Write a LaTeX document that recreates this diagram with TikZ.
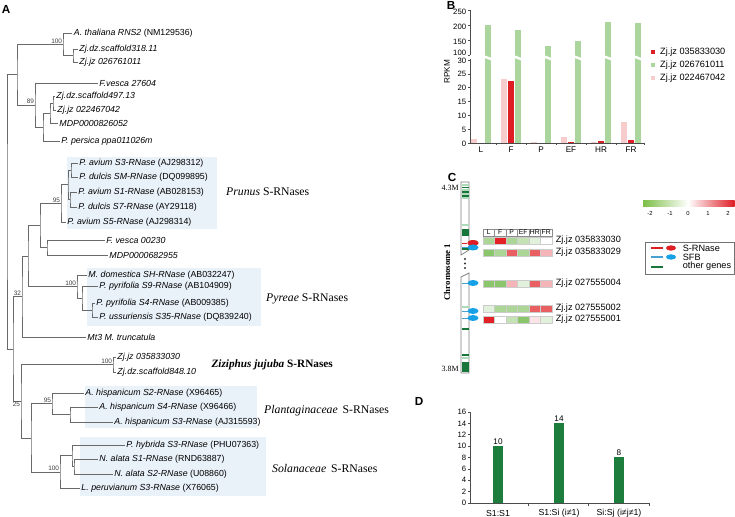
\documentclass[tikz,border=0pt]{standalone}
\usepackage{fontspec}
\setmainfont{Liberation Sans}
\newfontfamily\serifrm{Liberation Serif}
\usetikzlibrary{shapes.geometric,positioning,calc}
\definecolor{treegray}{RGB}{105,105,105}
\definecolor{cladeblue}{RGB}{233,241,249}
\definecolor{barred}{RGB}{221,30,36}
\definecolor{bargreen}{RGB}{170,214,158}
\definecolor{barpink}{RGB}{247,204,205}
\definecolor{darkgene}{RGB}{24,118,58}
\definecolor{lightgene}{RGB}{175,218,185}
\definecolor{sfbblue}{RGB}{22,160,230}
\definecolor{sfbline}{RGB}{70,160,210}
\definecolor{chromgray}{RGB}{125,125,125}
\definecolor{hmgreen}{RGB}{140,198,108}
\definecolor{hmlgreen}{RGB}{172,214,150}
\definecolor{hmllgreen}{RGB}{196,226,180}
\definecolor{hmvlgreen}{RGB}{226,241,219}
\definecolor{hmred}{RGB}{226,32,38}
\definecolor{hmmred}{RGB}{233,96,98}
\definecolor{hmpink}{RGB}{245,180,184}
\definecolor{hmvlpink}{RGB}{251,228,229}
\definecolor{scgreen}{RGB}{124,190,72}
\definecolor{scred}{RGB}{222,28,36}
\definecolor{dbar}{RGB}{28,125,60}

\begin{document}
\begin{tikzpicture}[x=0.03cm, y=-0.03cm,
leaf/.style={anchor=west, inner xsep=1.5pt, inner ysep=0pt, font=\fontsize{7.5}{8}\selectfont},
boot/.style={anchor=south east, inner sep=0.6pt, font=\fontsize{5.5}{6}\selectfont, text=black!75},
branch/.style={draw=treegray, line width=0.5pt},
clade/.style={anchor=west, inner sep=0pt, font=\serifrm\fontsize{10}{12}\selectfont},
panel/.style={font=\bfseries\fontsize{10}{12}\selectfont, inner sep=0pt},
tick/.style={anchor=east, inner xsep=1pt, inner ysep=0pt, font=\fontsize{6.6}{7}\selectfont},
catlab/.style={inner sep=0pt, font=\fontsize{7}{8}\selectfont},
axis/.style={draw=black!70, line width=0.4pt},
legsq/.style={minimum size=1.3mm, inner sep=0pt},
legtxt/.style={anchor=west, inner sep=0.5pt, font=\fontsize{7.8}{9}\selectfont},
hcell/.style={draw=black!45, line width=0.2pt, minimum width=0.345cm, minimum height=0.2cm, inner sep=0pt, font=\fontsize{5.8}{6}\selectfont},
gene/.style={line width=0.9pt},
srnase/.style={ellipse, fill=barred, minimum width=3.3mm, minimum height=1.8mm, inner sep=0pt},
sfb/.style={ellipse, fill=sfbblue, minimum width=3.3mm, minimum height=1.8mm, inner sep=0pt}
]
\useasboundingbox (0,0) rectangle (735,517);

% ---------------- A: tree
\node[panel] (pA) at (6,9) {A};

\fill[cladeblue] (67,157) rectangle (217,229);
\fill[cladeblue] (87,268) rectangle (261,326);
\fill[cladeblue] (85,386) rectangle (257,428);
\fill[cladeblue] (80,437) rectangle (266,496);

\node[leaf] (lAth) at (72,33) {\textit{A. thaliana RNS2} (NM129536)};
\node[leaf] (lZj318) at (77.5,49) {\textit{Zj.dz.scaffold318.11}};
\node[leaf] (lZj026) at (77.5,62) {\textit{Zj.jz 026761011}};
\node[leaf] (lFv27) at (97.5,83) {\textit{F.vesca 27604}};
\node[leaf] (lZj497) at (54.5,96) {\textit{Zj.dz.scaffold497.13}};
\node[leaf] (lZj022) at (55.5,110) {\textit{Zj.jz 022467042}};
\node[leaf] (lMDP826) at (57.5,123) {\textit{MDP0000826052}};
\node[leaf] (lPpe) at (59.5,141) {\textit{P. persica ppa011026m}};
\node[leaf] (lPavS3) at (77.5,163) {\textit{P. avium S3-RNase} (AJ298312)};
\node[leaf] (lPduSM) at (77.5,177) {\textit{P. dulcis SM-RNase} (DQ099895)};
\node[leaf] (lPavS1) at (76.5,192) {\textit{P. avium S1-RNase} (AB028153)};
\node[leaf] (lPduS7) at (76.5,207) {\textit{P. dulcis S7-RNase} (AY29118)};
\node[leaf] (lPavS5) at (65.5,222) {\textit{P. avium S5-RNase} (AJ298314)};
\node[leaf] (lFv00) at (104.5,240) {\textit{F. vesca 00230}};
\node[leaf] (lMDP682) at (107.5,255) {\textit{MDP0000682955}};
\node[leaf] (lMdo) at (86.5,275) {\textit{M. domestica SH-RNase} (AB032247)};
\node[leaf] (lPpyS9) at (97.5,286) {\textit{P. pyrifolia S9-RNase} (AB104909)};
\node[leaf] (lPpyS4) at (94.5,303) {\textit{P. pyrifolia S4-RNase} (AB009385)};
\node[leaf] (lPusS35) at (97.5,317) {\textit{P. ussuriensis S35-RNase} (DQ839240)};
\node[leaf] (lMt3) at (85.5,337) {\textit{Mt3 M. truncatula}};
\node[leaf] (lZj035) at (115.5,357) {\textit{Zj.jz 035833030}};
\node[leaf] (lZj848) at (115.5,372) {\textit{Zj.dz.scaffold848.10}};
\node[leaf] (lAhS2) at (83.5,393) {\textit{A. hispanicum S2-RNase} (X96465)};
\node[leaf] (lAhS4) at (97.5,407) {\textit{A. hispanicum S4-RNase} (X96466)};
\node[leaf] (lAhS3) at (112.5,422) {\textit{A. hispanicum S3-RNase} (AJ315593)};
\node[leaf] (lPhy) at (124.5,445) {\textit{P. hybrida S3-RNase} (PHU07363)};
\node[leaf] (lNaS1) at (97.5,459) {\textit{N. alata S1-RNase} (RND63887)};
\node[leaf] (lNaS2) at (112.5,474) {\textit{N. alata S2-RNase} (U08860)};
\node[leaf] (lLpe) at (79.5,488) {\textit{L. peruvianum S3-RNase} (X76065)};

\coordinate (nZj1) at (73,55.5);
\coordinate (n100a) at (63,44.25);
\coordinate (nZ497) at (53,103);
\coordinate (nZ826) at (50,113);
\coordinate (nPpe) at (43,127);
\coordinate (n89) at (35,105);
\coordinate (nTop) at (17,74.6);
\coordinate (nS3SM) at (71,170);
\coordinate (nS1S7) at (70,199.5);
\coordinate (nPr4) at (68,184.75);
\coordinate (n95) at (61,203.4);
\coordinate (nFvM) at (47,247.5);
\coordinate (nPr) at (40,225.4);
\coordinate (nS4S35) at (92,310);
\coordinate (nS9) at (82,298);
\coordinate (nPy) at (77,286.5);
\coordinate (nD) at (28,256);
\coordinate (n32) at (22,296.5);
\coordinate (nZiz) at (113,364.5);
\coordinate (nAS4S3) at (70,414.5);
\coordinate (n95b) at (52,403.75);
\coordinate (nNal) at (74,466.5);
\coordinate (nPhy) at (72,455.75);
\coordinate (n100c) at (60,471.9);
\coordinate (nF) at (31,437.8);
\coordinate (n25) at (21,401.2);
\coordinate (nE) at (13,348.8);
\coordinate (nRoot) at (7,211.7);

\draw[branch] (lZj318.west) -| (nZj1) |- (lZj026.west);
\draw[branch] (lAth.west) -| (n100a) |- (nZj1);
\draw[branch] (lZj497.west) -| (nZ497) |- (lZj022.west);
\draw[branch] (nZ497) -| (nZ826) |- (lMDP826.west);
\draw[branch] (nZ826) -| (nPpe) |- (lPpe.west);
\draw[branch] (lFv27.west) -| (n89) |- (nPpe);
\draw[branch] (n100a) -| (nTop) |- (n89);
\draw[branch] (lPavS3.west) -| (nS3SM) |- (lPduSM.west);
\draw[branch] (lPavS1.west) -| (nS1S7) |- (lPduS7.west);
\draw[branch] (nS3SM) -| (nPr4) |- (nS1S7);
\draw[branch] (nPr4) -| (n95) |- (lPavS5.west);
\draw[branch] (lFv00.west) -| (nFvM) |- (lMDP682.west);
\draw[branch] (n95) -| (nPr) |- (nFvM);
\draw[branch] (lPpyS4.west) -| (nS4S35) |- (lPusS35.west);
\draw[branch] (lPpyS9.west) -| (nS9) |- (nS4S35);
\draw[branch] (lMdo.west) -| (nPy) |- (nS9);
\draw[branch] (nPr) -| (nD) |- (nPy);
\draw[branch] (nD) -| (n32) |- (lMt3.west);
\draw[branch] (lZj035.west) -| (nZiz) |- (lZj848.west);
\draw[branch] (lAhS4.west) -| (nAS4S3) |- (lAhS3.west);
\draw[branch] (lAhS2.west) -| (n95b) |- (nAS4S3);
\draw[branch] (lNaS1.west) -| (nNal) |- (lNaS2.west);
\draw[branch] (lPhy.west) -| (nPhy) |- (nNal);
\draw[branch] (nPhy) -| (n100c) |- (lLpe.west);
\draw[branch] (n95b) -| (nF) |- (n100c);
\draw[branch] (nZiz) -| (n25) |- (nF);
\draw[branch] (n32) -| (nE) |- (n25);
\draw[branch] (nTop) -| (nRoot) |- (nE);

\node[boot] (b1) at (n100a) {100};
\node[boot] (b2) at (n89) {89};
\node[boot] (b3) at (n95) {95};
\node[boot] (b4) at (nPy) {100};
\node[boot] (b5) at (n32) {32};
\node[boot] (b6) at (nZiz) {100};
\node[boot] (b7) at (n95b) {95};
\node[boot] (b8) at (n100c) {100};
\node[boot, anchor=north east] (b9) at (n25) {25};

\node[clade] (cPru) at (226,192) {\textit{Prunus} S-RNases};
\node[clade] (cPyr) at (266,299) {\textit{Pyreae} S-RNases};
\node[clade, anchor=east, font=\serifrm\bfseries\fontsize{9.6}{12}\selectfont] (cZiz) at (333,365) {\textit{Ziziphus jujuba} S-RNases};
\node[clade] (cPla) at (264,411) {\textit{Plantaginaceae}\, S-RNases};
\node[clade] (cSol) at (272,468) {\textit{Solanaceae}\, S-RNases};

% ---------------- B: expression
\node[panel] (pB) at (451,5) {B};
\node[catlab, rotate=90] (rpkm) at (447,72) {RPKM};
\foreach \lab/\pk/\rd/\gr [count=\i from 0] in {L/1.5/0/200, F/23.2/22.3/183, P/0.3/0/130, EF/2.2/0.4/148, HR/0.5/0.8/211, FR/7.6/1.1/207}{
  \pgfmathsetmacro\cx{481+30*\i}
  \fill[barpink] (\cx-10,143) rectangle (\cx-3.6,{143-2.767*\pk});
  \fill[barred] (\cx-3.4,143) rectangle (\cx+3,{143-2.767*\rd});
  \fill[bargreen] (\cx+3.6,143) rectangle (\cx+10,{10+0.3*(250-\gr)});
  \fill[white] (\cx+2.6,55) -- (\cx+11,58.2) -- (\cx+11,60.8) -- (\cx+2.6,57.6) -- cycle;
  \node[catlab] (c\lab) at (\cx,150) {\lab};
}
\draw[axis] (470,10) -- (470,55.5);
\draw[axis] (470,59.5) -- (470,143) -- (644,143);
\foreach \v in {150,200,250}{
  \draw[axis] (468,{10+0.3*(250-\v)}) -- (470,{10+0.3*(250-\v)});
  \node[tick] (tu\v) at (467.5,{12+0.3*(250-\v)}) {\v};
}
\draw[axis] (468,55) -- (470,55);
\node[tick] (tu100) at (467.5,52.5) {100};
\foreach \v in {0,5,...,30}{
  \draw[axis] (468,{143-2.767*\v}) -- (470,{143-2.767*\v});
  \node[tick] (tl\v) at (467.5,{143.5-2.767*\v}) {\v};
}
\foreach \x in {496,526,556,586,616,644}
  \draw[axis] (\x,143) -- (\x,145);

\node[legsq, fill=barred] (sq1) at (653,52) {};
\node[legsq, fill=bargreen] (sq2) at (653,65) {};
\node[legsq, fill=barpink] (sq3) at (653,78) {};
\node[legtxt, right=1.2mm of sq1] (lg1) {Zj.jz 035833030};
\node[legtxt, right=1.2mm of sq2] (lg2) {Zj.jz 026761011};
\node[legtxt, right=1.2mm of sq3] (lg3) {Zj.jz 022467042};

% ---------------- C: chromosome
\node[panel] (pC) at (452,177) {C};
\node[anchor=east, inner sep=0pt, font=\serifrm\fontsize{6.8}{8}\selectfont] (top43) at (459,188) {4.3M};
\node[anchor=east, inner sep=0pt, font=\serifrm\fontsize{6.8}{8}\selectfont] (bot38) at (459,369) {3.8M};
\node[rotate=90, inner sep=0pt, font=\serifrm\bfseries\fontsize{7.5}{8}\selectfont] (chr1) at (447,272) {Chromosome 1};

\filldraw[fill=white, draw=chromgray, line width=0.6pt] (461,182) -- (469,182) -- (469,250) -- (461,255) -- cycle;
\filldraw[fill=white, draw=chromgray, line width=0.6pt] (461,277) -- (469,273) -- (469,373) -- (461,373) -- cycle;
\foreach \y in {185,190,194,198,225,307,358}
  \draw[gene, lightgene] (461.5,\y) -- (468.5,\y);
\foreach \y in {187.5,192,196,249,329,355}
  \draw[gene, darkgene] (461.5,\y) -- (468.5,\y);
\fill[darkgene] (461.5,229) rectangle (468.5,236);
\fill[darkgene] (461.5,362) rectangle (468.5,372);
\foreach \y in {259,263.5,268}
  \fill[black!80] (465,\y) circle (1.1);

\node[srnase] (eR1) at (473,243) {};
\draw[gene, barred, line width=0.7pt] (461.5,243) -- (eR1);
\node[srnase] (eR1) at (473,243) {};
\foreach \y [count=\k] in {247.5,283,311,318}{
  \draw[gene, sfbline, line width=0.7pt] (461.5,\y) -- (471,\y);
  \node[sfb] (eS\k) at (473,\y) {};
}

\foreach \h [count=\i from 0] in {L,F,P,EF,HR,FR}
  \node[hcell] (hd\i) at ({488.75+11.5*\i},232.5) {\h};
\foreach \ry/\cols in {237/{hmlgreen,hmred,hmlgreen,hmllgreen,hmvlgreen,white},
                      249/{hmgreen,hmlgreen,hmmred,hmlgreen,hmmred,hmpink},
                      280/{hmgreen,hmgreen,hmpink,hmvlgreen,hmmred,hmpink},
                      305/{hmvlgreen,hmlgreen,hmlgreen,hmlgreen,hmmred,hmmred},
                      316/{hmred,white,hmllgreen,hmgreen,hmvlpink,hmvlgreen}}{
  \foreach \cl [count=\i from 0] in \cols
    \filldraw[fill=\cl, draw=black!20, line width=0.2pt] ({483+11.5*\i},\ry) rectangle ({494.5+11.5*\i},\ry+6.8);
}
\node[legtxt] (g1) at (555,240.4) {Zj.jz 035833030};
\node[legtxt] (g2) at (555,252.4) {Zj.jz 035833029};
\node[legtxt] (g3) at (555,283.4) {Zj.jz 027555004};
\node[legtxt] (g4) at (555,308.4) {Zj.jz 027555002};
\node[legtxt] (g5) at (555,319.4) {Zj.jz 027555001};

\shade[left color=scgreen, right color=white] (643,201) rectangle (688,207);
\shade[left color=white, right color=scred] (688,201) rectangle (734.5,207);
\foreach \t/\x [count=\k] in {-2/650,-1/670,0/688,1/708,2/728}
  \node[inner sep=0pt, font=\fontsize{5}{6}\selectfont] (sc\k) at (\x,213) {\t};

\draw[draw=black!55, line width=0.5pt] (645,242) rectangle (734,274);
\node[srnase, minimum width=3mm, minimum height=1.6mm] (kR) at (671,248) {};
\node[sfb, minimum width=3mm, minimum height=1.6mm] (kS) at (671,257) {};
\coordinate (kR0) at (651,248);
\coordinate (kS0) at (651,257);
\coordinate (kG0) at (651,267);
\coordinate (kG1) at (663,267);
\draw[barred, line width=0.9pt] (kR0) -- +(12,0);
\draw[sfbline, line width=0.9pt] (kS0) -- +(12,0);
\draw[darkgene, line width=0.9pt] (kG0) -- (kG1);
\node[legtxt] (k1) at (682,248) {S-RNase};
\node[legtxt] (k2) at (682,257) {SFB};
\node[legtxt] (k3) at (682,266.5) {other genes};

% ---------------- D: pairs
\node[panel] (pD) at (419,401) {D};
\draw[axis] (470,412) -- (470,503) -- (650,503);
\foreach \v in {0,2,...,16}{
  \draw[axis] (468,{503-5.69*\v}) -- (470,{503-5.69*\v});
  \node[tick] (td\v) at (467.5,{503-5.69*\v}) {\v};
}
\foreach \x in {528,588,649.5}
  \draw[axis] (\x,503) -- (\x,506);
\foreach \cx/\v/\lab [count=\k] in {498/10/S1:S1, 559/14/S1:Si (i≠1), 619/8/Si:Sj (i≠j≠1)}{
  \fill[dbar] (\cx-4.7,503) rectangle (\cx+4.7,{503-5.69*\v});
  \node[catlab, anchor=south, inner sep=1pt] (dv\k) at (\cx,{503-5.69*\v}) {\v};
  \node[catlab, font=\fontsize{7.5}{8}\selectfont] (dl\k) at (\cx,513) {\lab};
}
\end{tikzpicture}
\end{document}
